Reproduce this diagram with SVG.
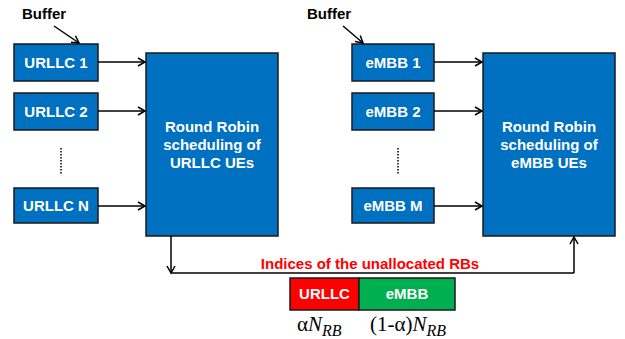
<svg xmlns="http://www.w3.org/2000/svg" width="625" height="339" viewBox="0 0 625 339">
<style>
.q{fill:#0070C0;stroke:#1a1a1a;stroke-width:1.5}
.t{font-family:"Liberation Sans",Arial,sans-serif;font-weight:bold;font-size:15px;fill:#fff;text-anchor:middle}
.b{font-family:"Liberation Sans",Arial,sans-serif;font-weight:bold;font-size:15px;fill:#000}
.c{stroke:#000;stroke-width:1.5;fill:none}
.m{font-family:"Liberation Serif","Times New Roman",serif;font-size:21px;fill:#000}
</style>
<defs>
<marker id="ah" markerWidth="10" markerHeight="10" refX="8" refY="5" orient="auto" markerUnits="userSpaceOnUse">
<path d="M1,1 L8,5 L1,9" fill="none" stroke="#000" stroke-width="1.5"/>
</marker>
</defs>
<g id="buffer1"><text class="b" x="22" y="19">Buffer</text></g>
<g id="buffer2"><text class="b" x="307" y="19">Buffer</text></g>
<g id="u1"><rect class="q" x="14" y="44" width="84" height="37"/><text class="t" x="56" y="68">URLLC 1</text></g>
<g id="u2"><rect class="q" x="14" y="93" width="84" height="37"/><text class="t" x="56" y="117">URLLC 2</text></g>
<g id="uN"><rect class="q" x="14" y="188" width="84" height="35"/><text class="t" x="56" y="211">URLLC N</text></g>
<g id="rrU"><rect class="q" x="146" y="53" width="132" height="183"/>
<text class="t" x="212" y="132">Round Robin</text><text class="t" x="212" y="150">scheduling of</text><text class="t" x="212" y="168">URLLC UEs</text></g>
<g id="e1"><rect class="q" x="352" y="44" width="82" height="37"/><text class="t" x="393" y="68">eMBB 1</text></g>
<g id="e2"><rect class="q" x="352" y="93" width="82" height="37"/><text class="t" x="393" y="117">eMBB 2</text></g>
<g id="eM"><rect class="q" x="352" y="188" width="82" height="35"/><text class="t" x="393" y="211">eMBB M</text></g>
<g id="rrE"><rect class="q" x="483" y="53" width="132" height="183"/>
<text class="t" x="549" y="132">Round Robin</text><text class="t" x="549" y="150">scheduling of</text><text class="t" x="549" y="168">eMBB UEs</text></g>
<g id="dots">
<line x1="61" y1="148" x2="61" y2="175" stroke="#000" stroke-width="1.5" stroke-dasharray="1.5,1.5"/>
<line x1="398" y1="148" x2="398" y2="175" stroke="#000" stroke-width="1.5" stroke-dasharray="1.5,1.5"/>
</g>
<g id="rb">
<rect x="290" y="278" width="69" height="32" fill="#FF0000" stroke="#1a1a1a" stroke-width="1.5"/>
<text class="t" x="324.5" y="299">URLLC</text>
<rect x="359" y="278" width="96" height="32" fill="#00B050" stroke="#1a1a1a" stroke-width="1.5"/>
<text class="t" x="407" y="299">eMBB</text>
</g>
<g id="labels">
<text class="b" x="370" y="269" style="fill:#FF0000" text-anchor="middle">Indices of the unallocated RBs</text>
<text class="m" x="297" y="331">α<tspan font-style="italic">N</tspan><tspan font-style="italic" font-size="16" dy="5">RB</tspan></text>
<text class="m" x="370" y="331">(1-α)<tspan font-style="italic">N</tspan><tspan font-style="italic" font-size="16" dy="5">RB</tspan></text>
</g>
<g id="connectors">
<line class="c" x1="54" y1="26" x2="79" y2="43" marker-end="url(#ah)" stroke-width="1.2"/>
<line class="c" x1="343" y1="26" x2="363" y2="43" marker-end="url(#ah)" stroke-width="1.2"/>
<line class="c" x1="98" y1="62" x2="145" y2="62" marker-end="url(#ah)"/>
<line class="c" x1="98" y1="111" x2="145" y2="111" marker-end="url(#ah)"/>
<line class="c" x1="98" y1="206" x2="145" y2="206" marker-end="url(#ah)"/>
<line class="c" x1="434" y1="62" x2="482" y2="62" marker-end="url(#ah)"/>
<line class="c" x1="434" y1="111" x2="482" y2="111" marker-end="url(#ah)"/>
<line class="c" x1="434" y1="206" x2="482" y2="206" marker-end="url(#ah)"/>
<line class="c" x1="171" y1="236" x2="171" y2="273" marker-end="url(#ah)" stroke-width="1"/>
<line class="c" x1="171" y1="273" x2="574" y2="273" stroke-width="1"/>
<line class="c" x1="574" y1="273" x2="574" y2="237" marker-end="url(#ah)" stroke-width="1"/>
</g>
</svg>
